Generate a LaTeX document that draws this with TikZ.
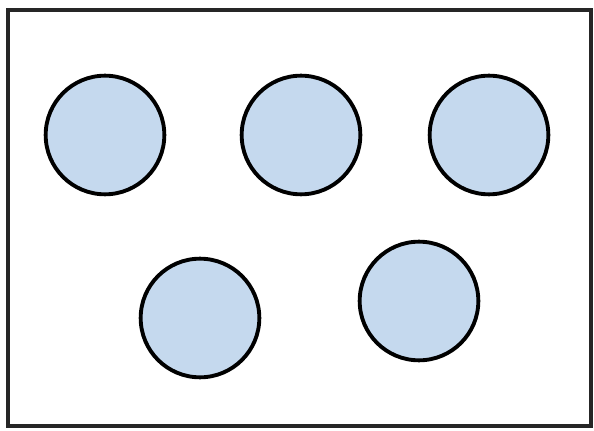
\documentclass[tikz,border=0pt]{standalone}
\definecolor{ballblue}{RGB}{197,217,238}
\usepackage{tikz}
\usetikzlibrary{positioning}

\begin{document}
\begin{tikzpicture}[
    x=0.03cm, y=-0.03cm,
    frame/.style={draw=black!85, line width=3.2pt},
    ball/.style={circle, draw=black, line width=3.3pt, fill=ballblue, minimum size=3.56cm, inner sep=0pt}
]
    \useasboundingbox (0,0) rectangle (594,431);
    \draw[frame] (8,10) rectangle (591,426);

    \node[ball] (b1) at (105,135) {};
    \node[ball] (b2) at (301,135) {};
    \node[ball] (b3) at (489,135) {};
    \node[ball] (b4) at (200,318) {};
    \node[ball] (b5) at (419,301) {};
\end{tikzpicture}
\end{document}
